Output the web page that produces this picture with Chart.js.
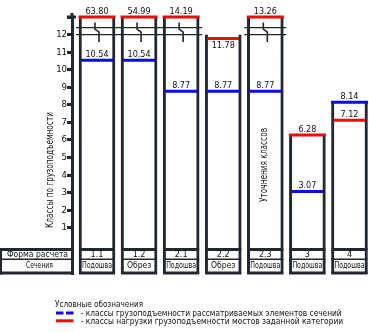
<!DOCTYPE html>
<html><head><meta charset="utf-8">
<script src="https://cdn.jsdelivr.net/npm/chart.js@4/dist/chart.umd.min.js"></script>
<style>html,body{margin:0;padding:0;background:#fff;}canvas{display:block;}</style>
</head><body>
<canvas id="c" width="369" height="332"></canvas>
<script>
// ---- data ----
const formNames = ['1.1', '1.2', '2.1', '2.2', '2.3', '3', '4'];          // Форма расчета
const sectionNames = ['Подошва', 'Обрез', 'Подошва', 'Обрез', 'Подошва', 'Подошва', 'Подошва']; // Сечения
const elementClasses = [10.54, 10.54, 8.77, 8.77, 8.77, 3.07, 8.14];       // blue
const loadClasses = [63.80, 54.99, 14.19, 11.78, 13.26, 6.28, 7.12];       // red
const frameTops = [13, 13, 13, 12, 13, 6.28, 8.14];                        // column frame heights
const yTickValues = [1, 2, 3, 4, 5, 6, 7, 8, 9, 10, 11, 12];

// ---- layout / style ----
const AXIS_BREAK = 12, BROKEN_POS = 13, Y_MIN = -1.63;
const DARK = '#23272f', TEXT = '#111', RED = '#f00a0a', BLUE = '#0a0aeb';
const FONT = "'Liberation Sans Narrow','DejaVu Sans Condensed','Arial Narrow',sans-serif";
const disp = v => (v > AXIS_BREAK ? BROKEN_POS : v);

function fitText(ctx, s, x, y, size, targetW, align, baseline, rot, maxOnly) {
  ctx.save();
  ctx.font = size + 'px ' + FONT;
  const w = ctx.measureText(s).width;
  let sx = targetW ? targetW / w : 1;
  if (maxOnly && sx > 1) sx = 1;
  ctx.translate(x, y);
  if (rot) ctx.rotate(rot);
  ctx.scale(sx, 1);
  ctx.textAlign = align || 'center';
  ctx.textBaseline = baseline || 'middle';
  ctx.fillStyle = TEXT;
  ctx.fillText(s, 0, 0);
  ctx.restore();
}

const drawing = {
  id: 'drawing',
  afterDatasetsDraw(chart) {
    const ctx = chart.ctx, ys = chart.scales.y;
    const bars = chart.getDatasetMeta(0).data;
    ctx.save();
    bars.forEach((b, i) => {
      if (loadClasses[i] <= AXIS_BREAK) return;
      const y1 = ys.getPixelForValue(AXIS_BREAK), y2 = ys.getPixelForValue(AXIS_BREAK + 0.4);
      ctx.strokeStyle = DARK; ctx.lineWidth = 1.3;
      ctx.beginPath();
      ctx.moveTo(b.x - 21, y1); ctx.lineTo(b.x + 21, y1);
      ctx.moveTo(b.x - 21, y2); ctx.lineTo(b.x + 21, y2);
      ctx.stroke();
      ctx.lineWidth = 1.6;
      ctx.beginPath();
      ctx.moveTo(b.x - 2, y2 - 5); ctx.lineTo(b.x - 2, y2 + 1.5);
      ctx.lineTo(b.x + 2, y1 - 2.5); ctx.lineTo(b.x + 2, y1 + 7.5);
      ctx.stroke();
    });
    const lab = (vals) => vals.forEach((v, i) => {
      const py = ys.getPixelForValue(disp(v));
      const below = v <= AXIS_BREAK && v > AXIS_BREAK - 0.5;
      ctx.font = '9px ' + FONT; ctx.fillStyle = TEXT;
      ctx.textAlign = 'center'; ctx.textBaseline = 'alphabetic';
      ctx.fillText(v.toFixed(2), bars[i].x, below ? py + 10 : py - 3);
    });
    lab(loadClasses); lab(elementClasses);
    ctx.restore();
  },
  afterDraw(chart) {
    const ctx = chart.ctx, area = chart.chartArea;
    const bars = chart.getDatasetMeta(0).data;
    const T0 = 249.5, T1 = 259.3, T2 = area.bottom - 1;
    ctx.save();
    // axis top extension and end marker
    ctx.fillStyle = DARK;
    ctx.fillRect(area.left - 1.5, area.top - 4, 3, 5);
    ctx.fillRect(area.left - 5, area.top - 1.5, 9, 3);
    ctx.strokeStyle = DARK;
    const hline = (x1, x2, y, w) => { ctx.lineWidth = w; ctx.beginPath(); ctx.moveTo(x1, y); ctx.lineTo(x2, y); ctx.stroke(); };
    hline(0, area.left, T0, 3); hline(1.5, area.left, T1, 1.5); hline(0, area.left, T2, 3);
    ctx.lineWidth = 2; ctx.beginPath(); ctx.moveTo(1, T0 - 1.5); ctx.lineTo(1, T2 + 1.5); ctx.stroke();
    fitText(ctx, 'Форма расчета', 37.5, 254.3, 9.5, 61);
    fitText(ctx, 'Сечения', 39.5, 265.3, 9.5, 27);
    bars.forEach((b, i) => {
      const x1 = b.x - b.width / 2, x2 = b.x + b.width / 2;
      hline(x1, x2, T0, 3); hline(x1, x2, T1, 1.5); hline(x1, x2, T2, 3);
      fitText(ctx, formNames[i], b.x, 254.3, 9);
      fitText(ctx, sectionNames[i], b.x, 265.5, 8.5, 30, 'center', 'middle', 0, true);
    });
    fitText(ctx, 'Классы по грузоподъемности', 50, 170, 10, 116, 'center', 'middle', -Math.PI / 2);
    fitText(ctx, 'Уточнения классов', bars[4].x - 1, 165, 10, 74, 'center', 'middle', -Math.PI / 2);
    fitText(ctx, 'Условные обозначения', 55, 307, 9, 88, 'left', 'alphabetic');
    ctx.fillStyle = BLUE;
    ctx.fillRect(56, 311.5, 7.5, 3); ctx.fillRect(66, 311.5, 7.5, 3);
    ctx.fillStyle = RED;
    ctx.fillRect(56, 319.3, 17.5, 3);
    fitText(ctx, '- классы грузоподъемности рассматриваемых элементов сечений', 80.7, 315.5, 9, 261, 'left', 'alphabetic');
    fitText(ctx, '- классы нагрузки грузоподъемности мостов заданной категории', 80.7, 324, 9, 262.5, 'left', 'alphabetic');
    ctx.restore();
  }
};

const radiusFor = (vals) => (c) => (Math.abs(disp(vals[c.dataIndex]) - frameTops[c.dataIndex]) < 0.01 ? 18.5 : 16);

new Chart(document.getElementById('c'), {
  type: 'bar',
  data: {
    datasets: [
      {
        type: 'bar', order: 3,
        data: frameTops.map((t, i) => ({ x: i + 1, y: [Y_MIN, t] })),
        backgroundColor: '#ffffff', borderColor: DARK,
        borderWidth: { left: 3, right: 3, top: 0, bottom: 0 }, borderSkipped: false,
        barThickness: 36, grouped: false
      },
      {
        type: 'line', order: 1, showLine: false, clip: false,
        data: loadClasses.map((v, i) => ({ x: i + 1, y: disp(v) })),
        pointStyle: 'line', pointRadius: radiusFor(loadClasses), pointBorderWidth: 3,
        pointBorderColor: RED, pointBackgroundColor: RED
      },
      {
        type: 'line', order: 2, showLine: false, clip: false,
        data: elementClasses.map((v, i) => ({ x: i + 1, y: disp(v) })),
        pointStyle: 'line', pointRadius: radiusFor(elementClasses), pointBorderWidth: 3,
        pointBorderColor: BLUE, pointBackgroundColor: BLUE
      }
    ]
  },
  options: {
    responsive: false, devicePixelRatio: 1, animation: false, events: [],
    layout: { autoPadding: false, padding: { top: 17, bottom: 58, left: 0, right: 0 } },
    plugins: { legend: { display: false }, tooltip: { enabled: false } },
    scales: {
      x: { type: 'linear', min: 0.406, max: 7.464, offset: false, grid: { offset: false }, display: false },
      y: {
        type: 'linear', min: Y_MIN, max: BROKEN_POS,
        afterBuildTicks: s => { s.ticks = yTickValues.concat([BROKEN_POS]).map(v => ({ value: v })); },
        afterFit: s => { s.width = 72; },
        ticks: { autoSkip: false, padding: 0, color: TEXT, font: { family: FONT, size: 9.5 },
                 callback: v => (v === BROKEN_POS ? '' : String(v)) },
        grid: { drawOnChartArea: false, drawTicks: true, tickLength: 5, tickWidth: 3, tickColor: DARK, color: DARK },
        border: { display: true, width: 3, color: DARK }
      }
    }
  },
  plugins: [drawing]
});
</script>
</body></html>
